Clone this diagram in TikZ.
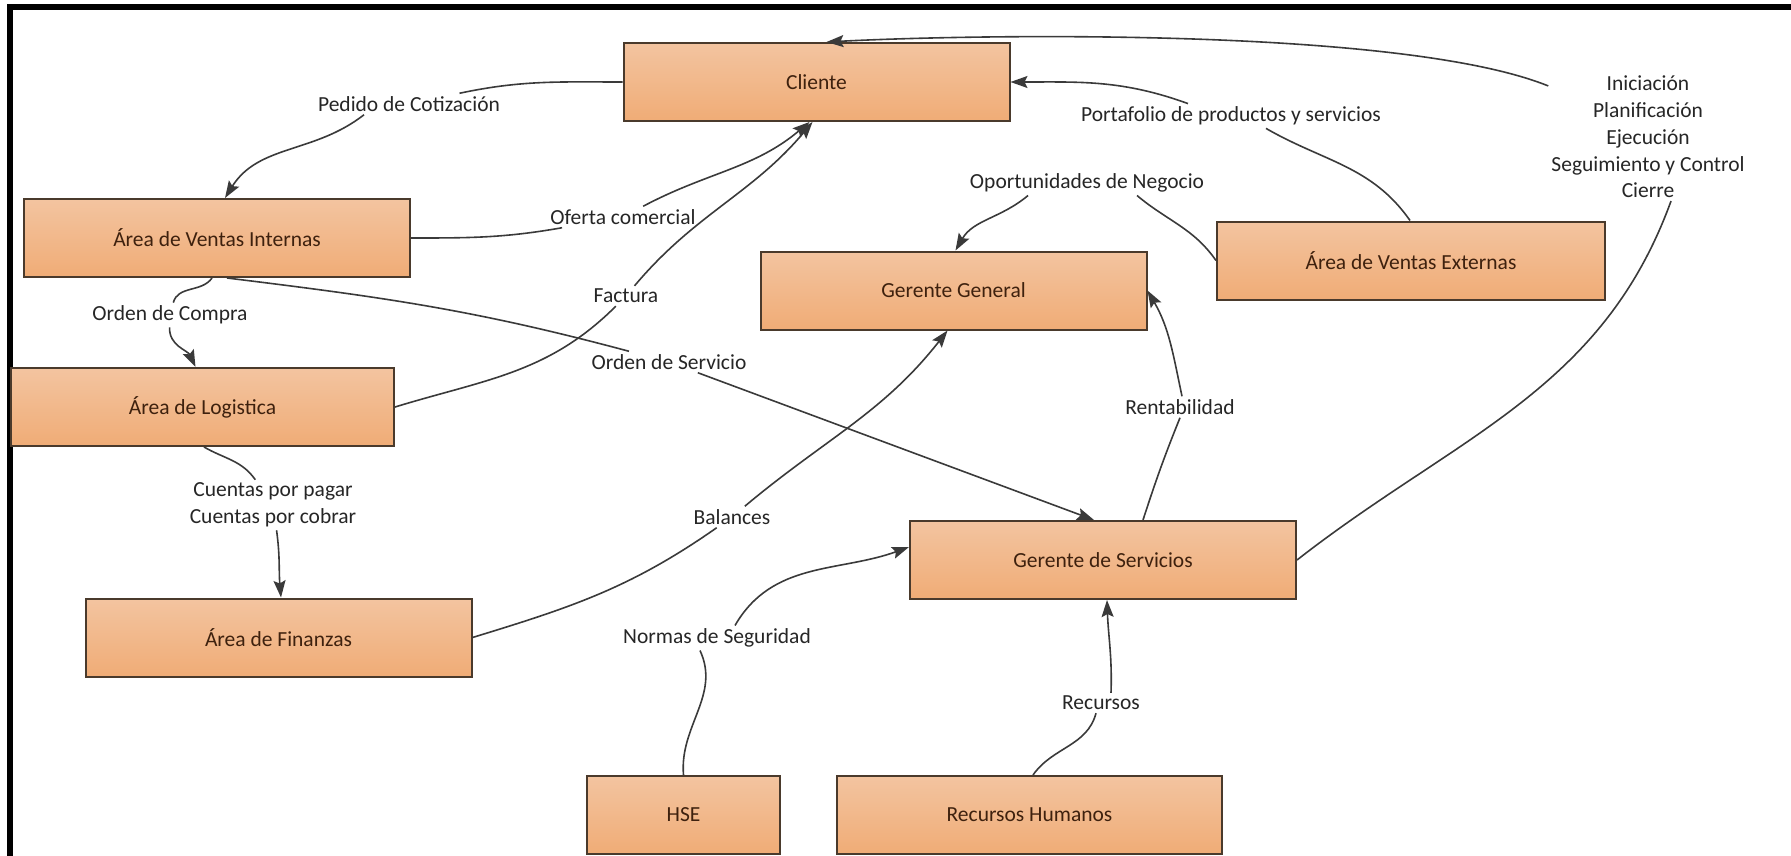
\documentclass[tikz,border=0pt]{standalone}
\usepackage{fontspec}
\setmainfont{Carlito}
\usetikzlibrary{arrows.meta}
\definecolor{boxtop}{HTML}{F3C4A0}
\definecolor{boxmid}{HTML}{F2BA90}
\definecolor{boxbot}{HTML}{F0AC76}
\definecolor{boxline}{HTML}{4A3A2C}
\definecolor{boxtext}{HTML}{3E210E}
\definecolor{linkcol}{HTML}{3A3A3A}
\definecolor{labtext}{HTML}{262626}

\begin{document}
\begin{tikzpicture}[x=1pt,y=-1pt,
  box/.style={draw=boxline, line width=2pt, top color=boxtop, middle color=boxmid, bottom color=boxbot,
    minimum width=386pt, minimum height=78pt, inner sep=0pt, text=boxtext,
    font=\fontsize{21.5}{26.7}\selectfont},
  lab/.style={fill=white, inner sep=3pt, text=labtext, align=center,
    font=\fontsize{21.5}{26.7}\selectfont},
  link/.style={draw=linkcol, line width=1.6pt},
  arr/.style={link, -{Stealth[length=17pt,width=12pt,inset=3pt]}},
]
\useasboundingbox (0,0) rectangle (1791,856);

% frame edges
\fill[black] (7,4) rectangle (1791,10);
\fill[black] (7,4) rectangle (13,856);

% boxes
\node[box] (cliente) at (816.5,82) {Cliente};
\node[box] (avi) at (217,238) {Área de Ventas Internas};
\node[box, minimum width=383pt] (al) at (202.5,407) {Área de Logistica};
\node[box] (af) at (278.5,637.5) {Área de Finanzas};
\node[box] (gg) at (953.5,290.5) {Gerente General};
\node[box, minimum width=388pt] (ave) at (1411,260.5) {Área de Ventas Externas};
\node[box] (gs) at (1103,560) {Gerente de Servicios};
\node[box, minimum width=193pt] (hse) at (683.5,815) {HSE};
\node[box, minimum width=385pt] (rh) at (1029.5,815) {Recursos Humanos};

% flow labels
\node[lab] (lped) at (409,104) {Pedido de Cotización};
\node[lab] (lofe) at (623,217) {Oferta comercial};
\node[lab] (lfac) at (626,296) {Factura};
\node[lab] (lcom) at (170,315) {Orden de Compra};
\node[lab] (lser) at (669,362) {Orden de Servicio};
\node[lab] (lcue) at (273,505) {Cuentas por pagar\\Cuentas por cobrar};
\node[lab] (lbal) at (732,517) {Balances};
\node[lab] (lnor) at (717,638) {Normas de Seguridad};
\node[lab] (lrec) at (1101,703) {Recursos};
\node[lab] (lren) at (1180,407) {Rentabilidad};
\node[lab] (lopo) at (1087,183) {Oportunidades de Negocio};
\node[lab] (lpor) at (1231,116) {Portafolio de productos y servicios};
\node[lab] (lini) at (1648,137) {Iniciación\\Planificación\\Ejecución\\Seguimiento y Control\\Cierre};

% Pedido de Cotización
\draw[link] (cliente.west) to[out=180,in=12] (lped);
\draw[arr] ([xshift=-45pt]lped.south) to[out=-142,in=58] ([xshift=8pt]avi.north);
% Oferta comercial
\draw[link] (avi.east) to[out=0,in=190] (lofe);
\draw[arr] (lofe) to[out=28,in=-140] ([xshift=-7pt]cliente.south);
% Factura
\draw[link] (al.east) to[out=17,in=-135] (lfac);
\draw[arr] (lfac) to[out=50,in=-130] ([xshift=-4pt]cliente.south);
% Orden de Compra
\draw[link] ([xshift=-5pt]avi.south) to[out=-125,in=75] (lcom);
\draw[arr] (lcom) to[out=-92,in=115] ([xshift=-7pt]al.north);
% Orden de Servicio
\draw[link] ([xshift=10pt]avi.south) to[out=-7,in=165] (lser);
\draw[arr] (lser) -- ([xshift=-9pt]gs.north);
% Cuentas por pagar / cobrar
\draw[link] ([xshift=1.5pt]al.south) to[out=-30,in=125] (lcue);
\draw[arr] (lcue) to[out=-82,in=95] ([xshift=2.5pt]af.north);
% Balances
\draw[link] (af.east) to[out=17,in=-145] (lbal);
\draw[arr] (lbal) to[out=40,in=-128] ([xshift=-6pt]gg.south);
% Normas de Seguridad
\draw[link] (hse.north) to[out=95,in=-65] ([xshift=-17pt]lnor.south);
\draw[arr] ([xshift=18pt]lnor.north) to[out=60,in=200] ([yshift=13pt]gs.west);
% Recursos
\draw[link] ([xshift=3.5pt]rh.north) to[out=55,in=-105] ([xshift=-5pt]lrec.south);
\draw[arr] ([xshift=10pt]lrec.north) to[out=88,in=-88] ([xshift=4pt]gs.south);
% Rentabilidad
\draw[link] ([xshift=40pt]gs.north) to[out=72,in=-112] (lren.south);
\draw[arr] ([xshift=2pt]lren.north) to[out=102,in=-60] (gg.east);
% Oportunidades de Negocio
\draw[link] (ave.west) to[out=125,in=-40] ([xshift=50pt]lopo.south);
\draw[arr] ([xshift=-59pt]lopo.south) to[out=-140,in=60] ([xshift=2pt]gg.north);
% Portafolio de productos y servicios
\draw[link] ([xshift=-1pt]ave.north) to[out=125,in=-30] ([xshift=35pt]lpor.south);
\draw[arr] ([xshift=-43pt]lpor.north) to[out=160,in=0] (cliente.east);
% Iniciación ... Cierre
\draw[link] (gs.east) to[out=38,in=-110] ([xshift=23pt]lini.south);
\draw[arr] ([yshift=-13pt]lini.north west) to[out=158,in=3,looseness=0.55] ([xshift=10pt]cliente.north);

\end{tikzpicture}
\end{document}
